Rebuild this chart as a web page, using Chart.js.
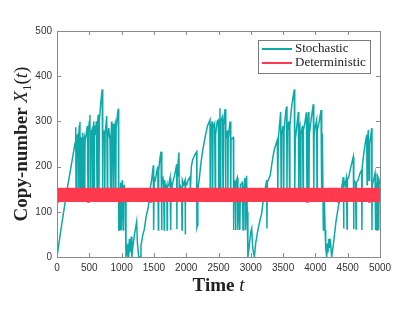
<!DOCTYPE html>
<html>
<head>
<meta charset="utf-8">
<script src="https://cdn.jsdelivr.net/npm/chart.js@4"></script>
<style>
    html, body { margin: 0; padding: 0; background: #fff; }
</style>
</head>
<body>
<canvas id="chart" width="415" height="320"></canvas>
<script>
(function(){

    'use strict';

    // stochastic trajectory (time, copy-number)
    var stochTimes = [
        0, 60, 100, 165, 280, 290, 295, 300, 320, 330, 335, 345, 355, 360, 365, 380, 385, 390, 400, 405,
        410, 420, 430, 435, 450, 470, 480, 485, 500, 510, 515, 520, 540, 550, 555, 570, 575, 580, 590, 610,
        620, 625, 640, 650, 655, 680, 700, 705, 710, 730, 740, 745, 770, 780, 785, 800, 820, 830, 835, 845,
        850, 855, 870, 880, 885, 900, 910, 915, 940, 950, 955, 960, 970, 975, 985, 995, 1005, 1010, 1015, 1025,
        1030, 1040, 1055, 1068, 1080, 1090, 1100, 1110, 1120, 1130, 1150, 1160, 1172, 1200, 1233, 1245, 1265, 1285,
        1300, 1330, 1350, 1380, 1414, 1440, 1465, 1491, 1496, 1505, 1520, 1540, 1560, 1569, 1574, 1590, 1610, 1620,
        1625, 1640, 1650, 1660, 1665, 1680, 1700, 1705, 1710, 1730, 1750, 1760, 1765, 1780, 1800, 1820, 1853, 1856,
        1860, 1870, 1888, 1892, 1900, 1930, 1935, 1940, 1960, 1982, 1985, 1990, 2010, 2030, 2059, 2065, 2080, 2100,
        2130, 2162, 2166, 2175, 2180, 2200, 2230, 2260, 2300, 2330, 2368, 2372, 2378, 2400, 2410, 2415, 2440, 2450,
        2455, 2480, 2498, 2505, 2510, 2523, 2528, 2535, 2560, 2570, 2575, 2601, 2610, 2615, 2640, 2645, 2650, 2680,
        2690, 2695, 2730, 2735, 2740, 2760, 2765, 2770, 2790, 2800, 2810, 2830, 2840, 2870, 2880, 2890, 2910, 2920,
        2935, 2945, 2955, 2965, 2980, 3000, 3014, 3030, 3055, 3075, 3110, 3140, 3168, 3200, 3220, 3246, 3250, 3255,
        3270, 3300, 3330, 3360, 3390, 3411, 3418, 3425, 3450, 3462, 3470, 3475, 3500, 3510, 3515, 3540, 3555, 3560,
        3565, 3590, 3600, 3605, 3630, 3650, 3674, 3680, 3690, 3720, 3736, 3740, 3745, 3760, 3770, 3775, 3800, 3810,
        3815, 3840, 3860, 3870, 3875, 3891, 3900, 3905, 3930, 3968, 3975, 3980, 4000, 4019, 4025, 4030, 4060, 4087,
        4095, 4100, 4107, 4123, 4130, 4135, 4140, 4150, 4160, 4175, 4185, 4195, 4205, 4215, 4230, 4252, 4280, 4320,
        4355, 4390, 4420, 4432, 4437, 4442, 4460, 4480, 4490, 4495, 4520, 4550, 4575, 4587, 4592, 4597, 4620, 4630,
        4635, 4660, 4690, 4716, 4720, 4725, 4750, 4770, 4794, 4800, 4805, 4820, 4830, 4840, 4860, 4871, 4876, 4880,
        4900, 4923, 4928, 4935, 4950, 4955, 4960, 4975, 4980, 4985, 5000
    ];
    var stochCounts = [
        0, 60, 97, 156, 252, 287, 140, 265, 270, 140, 260, 290, 299, 140, 265, 262, 140, 260, 275, 140,
        255, 262, 140, 258, 270, 290, 140, 275, 300, 314, 140, 270, 280, 140, 265, 300, 140, 290, 270, 300,
        140, 295, 315, 140, 300, 345, 371, 140, 260, 280, 140, 270, 312, 140, 260, 285, 260, 140, 255, 300,
        140, 280, 295, 140, 285, 295, 140, 285, 320, 328, 60, 60, 150, 60, 165, 60, 60, 170, 150, 60,
        140, 160, 130, 0, 20, 10, 30, 0, 40, 10, 45, 0, 20, 50, 78, 30, 0, 0,
        25, 50, 60, 90, 111, 150, 170, 203, 60, 175, 170, 185, 200, 60, 190, 215, 233, 60,
        170, 175, 160, 60, 170, 150, 160, 60, 155, 160, 175, 60, 165, 155, 170, 180, 205, 62,
        180, 200, 231, 150, 160, 150, 60, 170, 160, 170, 50, 165, 160, 170, 177, 150, 200, 215,
        225, 233, 65, 70, 150, 170, 210, 240, 270, 290, 303, 140, 280, 300, 140, 285, 295, 140,
        270, 300, 303, 140, 290, 329, 140, 300, 310, 140, 290, 327, 140, 260, 280, 140, 265, 300,
        140, 260, 264, 60, 170, 160, 60, 165, 175, 60, 150, 60, 160, 165, 60, 150, 175, 60,
        180, 100, 0, 10, 30, 55, 63, 20, 0, 30, 60, 80, 96, 135, 148, 170, 63, 165,
        170, 180, 210, 235, 250, 259, 140, 260, 300, 321, 140, 270, 290, 140, 280, 320, 333, 140,
        280, 300, 140, 290, 330, 350, 371, 140, 260, 300, 321, 140, 280, 290, 140, 270, 290, 140,
        280, 300, 320, 140, 280, 321, 140, 270, 300, 338, 140, 270, 290, 303, 140, 280, 300, 325,
        140, 260, 273, 60, 70, 150, 120, 60, 20, 0, 30, 10, 40, 20, 40, 0, 30, 80,
        111, 140, 165, 177, 63, 170, 160, 175, 62, 170, 180, 200, 215, 222, 62, 170, 165, 62,
        165, 170, 185, 192, 60, 200, 230, 250, 270, 160, 260, 281, 170, 250, 270, 285, 60, 160,
        170, 185, 60, 165, 160, 60, 180, 175, 60, 160, 170
    ];

    // deterministic solution: a fast oscillation sampled every detStep time units
    var detStep = 15;
    var detCounts = [
        122, 153, 122, 153, 122, 153, 122, 153, 122, 153, 122, 153, 122, 153, 122, 153, 122, 153, 122, 153,
        122, 153, 122, 153, 122, 153, 122, 153, 122, 153, 122, 153, 122, 153, 122, 153, 122, 153, 122, 153,
        122, 153, 122, 153, 122, 153, 122, 153, 122, 153, 122, 153, 122, 153, 122, 153, 122, 153, 122, 153,
        122, 153, 122, 153, 122, 153, 122, 153, 122, 153, 122, 153, 122, 153, 122, 153, 122, 153, 122, 153,
        122, 153, 122, 153, 122, 153, 122, 153, 122, 153, 122, 153, 122, 153, 122, 153, 122, 153, 122, 153,
        122, 153, 122, 153, 122, 153, 122, 153, 122, 153, 122, 153, 122, 153, 122, 153, 122, 153, 122, 153,
        122, 153, 122, 153, 122, 153, 122, 153, 122, 153, 122, 153, 122, 153, 122, 153, 122, 153, 122, 153,
        122, 153, 122, 153, 122, 153, 122, 153, 122, 153, 122, 153, 122, 153, 122, 153, 122, 153, 122, 153,
        122, 153, 122, 153, 122, 153, 122, 153, 122, 153, 122, 153, 122, 153, 122, 153, 122, 153, 122, 153,
        122, 153, 122, 153, 122, 153, 122, 153, 122, 153, 122, 153, 122, 153, 122, 153, 122, 153, 122, 153,
        122, 153, 122, 153, 122, 153, 122, 153, 122, 153, 122, 153, 122, 153, 122, 153, 122, 153, 122, 153,
        122, 153, 122, 153, 122, 153, 122, 153, 122, 153, 122, 153, 122, 153, 122, 153, 122, 153, 122, 153,
        122, 153, 122, 153, 122, 153, 122, 153, 122, 153, 122, 153, 122, 153, 122, 153, 122, 153, 122, 153,
        122, 153, 122, 153, 122, 153, 122, 153, 122, 153, 122, 153, 122, 153, 122, 153, 122, 153, 122, 153,
        122, 153, 122, 153, 122, 153, 122, 153, 122, 153, 122, 153, 122, 153, 122, 153, 122, 153, 122, 153,
        122, 153, 122, 153, 122, 153, 122, 153, 122, 153, 122, 153, 122, 153, 122, 153, 122, 153, 122, 153,
        122, 153, 122, 153, 122, 153, 122, 153, 122, 153, 122, 153, 122, 153, 122, 153, 122, 153, 122, 153
    ];

    var xTicks = [0, 500, 1000, 1500, 2000, 2500, 3000, 3500, 4000, 4500, 5000];
    var yTicks = [0, 100, 200, 300, 400, 500];

    var seriesNames = ['Stochastic', 'Deterministic'];
    var colors = ['#0FA8A8', '#FF3A4E'];

    var xTitle = ['Time ', 't'];
    var yTitle = ['Copy-number ', 'X', '1', '(t)'];

    var serif = '"Liberation Serif", "DejaVu Serif", serif',
        sans = '"Liberation Sans", Arial, sans-serif',
        axisGray = '#8a8a8a',
        textGray = '#333333';

    var stochPoints = [],
        detPoints = [],
        i;

    for (i = 0; i < stochTimes.length; i++) {
        stochPoints.push({x: stochTimes[i], y: stochCounts[i]});
    }
    for (i = 0; i < detCounts.length; i++) {
        detPoints.push({x: i * detStep, y: detCounts[i]});
    }

    // box, inward ticks, legend and the mixed-font axis titles
    var decor = {
        id: 'decor',
        afterDraw: function(chart) {
            var ctx = chart.ctx,
                area = chart.chartArea,
                xs = chart.scales.x,
                ys = chart.scales.y,
                tl = 4,
                j, p;

            ctx.save();
            ctx.strokeStyle = axisGray;
            ctx.lineWidth = 1;
            ctx.strokeRect(Math.round(area.left) + 0.5, Math.round(area.top) + 0.5,
                Math.round(area.right - area.left), Math.round(area.bottom - area.top));

            ctx.beginPath();
            for (j = 0; j < xTicks.length; j++) {
                p = Math.round(xs.getPixelForValue(xTicks[j])) + 0.5;
                ctx.moveTo(p, area.bottom);
                ctx.lineTo(p, area.bottom - tl);
                ctx.moveTo(p, area.top);
                ctx.lineTo(p, area.top + tl);
            }
            for (j = 0; j < yTicks.length; j++) {
                p = Math.round(ys.getPixelForValue(yTicks[j])) + 0.5;
                ctx.moveTo(area.left, p);
                ctx.lineTo(area.left + tl, p);
                ctx.moveTo(area.right, p);
                ctx.lineTo(area.right - tl, p);
            }
            ctx.stroke();

            // legend
            var lx = area.right - 122, ly = area.top + 9, lw = 112, lh = 33;
            ctx.fillStyle = '#fff';
            ctx.fillRect(lx, ly, lw, lh);
            ctx.strokeStyle = '#7a7a7a';
            ctx.strokeRect(lx + 0.5, ly + 0.5, lw, lh);
            ctx.font = '13px ' + serif;
            ctx.textBaseline = 'middle';
            ctx.textAlign = 'left';
            for (j = 0; j < seriesNames.length; j++) {
                var ry = ly + 9 + j * 14;
                ctx.strokeStyle = colors[j];
                ctx.lineWidth = 2;
                ctx.beginPath();
                ctx.moveTo(lx + 4, ry);
                ctx.lineTo(lx + 34, ry);
                ctx.stroke();
                ctx.fillStyle = '#222';
                ctx.fillText(seriesNames[j], lx + 37, ry);
            }

            // x title
            var bold = 'bold 19px ' + serif,
                ital = 'italic 19px ' + serif,
                w1, w2, cx;
            ctx.fillStyle = '#222';
            ctx.textBaseline = 'alphabetic';
            ctx.font = bold;
            w1 = ctx.measureText(xTitle[0]).width;
            ctx.font = ital;
            w2 = ctx.measureText(xTitle[1]).width;
            cx = (area.left + area.right) / 2 - (w1 + w2) / 2;
            ctx.font = bold;
            ctx.fillText(xTitle[0], cx, area.bottom + 34);
            ctx.font = ital;
            ctx.fillText(xTitle[1], cx + w1, area.bottom + 34);

            // y title, rotated
            var parts = [
                {t: yTitle[0], f: bold, dy: 0},
                {t: yTitle[1], f: ital, dy: 0},
                {t: yTitle[2], f: '13px ' + serif, dy: 4},
                {t: yTitle[3].charAt(0), f: '19px ' + serif, dy: 0},
                {t: yTitle[3].charAt(1), f: ital, dy: 0},
                {t: yTitle[3].charAt(2), f: '19px ' + serif, dy: 0}
            ];
            var total = 0;
            for (j = 0; j < parts.length; j++) {
                ctx.font = parts[j].f;
                parts[j].w = ctx.measureText(parts[j].t).width;
                total += parts[j].w;
            }
            ctx.translate(27, (area.top + area.bottom) / 2);
            ctx.rotate(-Math.PI / 2);
            var px = -total / 2;
            for (j = 0; j < parts.length; j++) {
                ctx.font = parts[j].f;
                ctx.fillText(parts[j].t, px, parts[j].dy);
                px += parts[j].w;
            }
            ctx.restore();
        }
    };

    var tickFont = {family: sans, size: 10};
    var plainLabel = function(v) { return String(v); };

    new Chart(document.getElementById('chart').getContext('2d'), {
        type: 'line',
        data: {
            datasets: [{
                label: seriesNames[1],
                data: detPoints,
                borderColor: colors[1],
                borderWidth: 2,
                pointRadius: 0,
                tension: 0,
                fill: false
            }, {
                label: seriesNames[0],
                data: stochPoints,
                borderColor: colors[0],
                borderWidth: 1.5,
                pointRadius: 0,
                tension: 0,
                fill: false
            }]
        },
        options: {
            responsive: false,
            animation: false,
            devicePixelRatio: 1,
            layout: {padding: {left: 0, right: 35, top: 31, bottom: 0}},
            plugins: {
                legend: {display: false},
                tooltip: {enabled: false}
            },
            scales: {
                x: {
                    type: 'linear',
                    min: 0,
                    max: 5000,
                    afterBuildTicks: function(s) {
                        s.ticks = xTicks.map(function(v) { return {value: v}; });
                    },
                    afterFit: function(s) { s.height = 63; },
                    ticks: {font: tickFont, color: textGray, padding: 5, maxRotation: 0, autoSkip: false, callback: plainLabel},
                    grid: {display: false, drawTicks: false},
                    border: {display: false}
                },
                y: {
                    type: 'linear',
                    min: 0,
                    max: 500,
                    afterBuildTicks: function(s) {
                        s.ticks = yTicks.map(function(v) { return {value: v}; });
                    },
                    afterFit: function(s) { s.width = 57; },
                    ticks: {font: tickFont, color: textGray, padding: 5, callback: plainLabel},
                    grid: {display: false, drawTicks: false},
                    border: {display: false}
                }
            }
        },
        plugins: [decor]
    });
})();
</script>
</body>
</html>
